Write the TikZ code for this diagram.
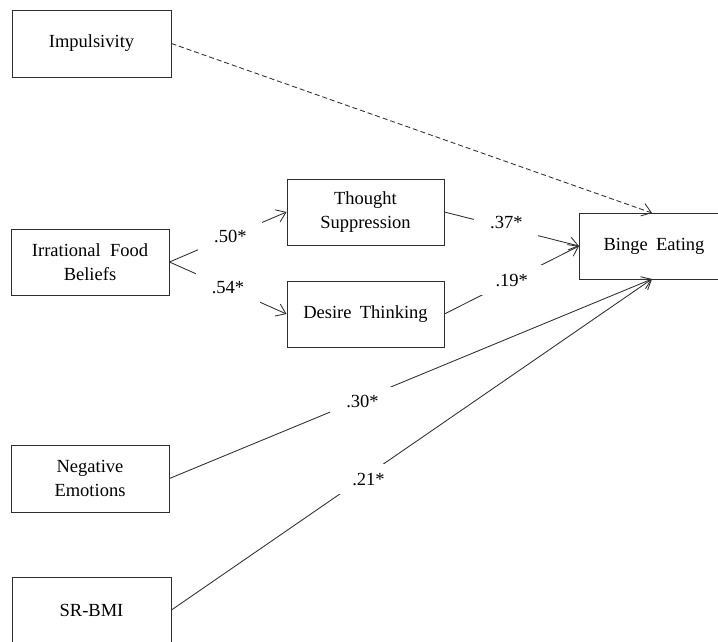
\documentclass[tikz,border=0pt]{standalone}
\usepackage{fontspec}
\setmainfont{Liberation Serif}
\usetikzlibrary{arrows.meta}
\definecolor{ink}{HTML}{2E2E2E}
\tikzset{
  box/.style={draw=ink, line width=0.9pt, rectangle, align=center, inner sep=0pt,
    font=\fontsize{18.5}{23.5}\selectfont, text=black},
  coef/.style={fill=white, inner sep=0pt, minimum width=64pt, minimum height=30pt,
    font=\fontsize{18.5}{22}\selectfont, text=black},
  path/.style={draw=ink, line width=0.85pt, -{Straight Barb[length=9pt,width=13pt,line width=0.85pt]}},
  dpath/.style={path, dash pattern=on 5pt off 3pt}
}
\begin{document}
\begin{tikzpicture}[x=1pt,y=-1pt]
\useasboundingbox[fill=white] (0,0) rectangle (718,641);
\clip (0,0) rectangle (718,641);

\node[box, minimum width=159pt, minimum height=67pt] (imp) at (91.5,43.5) {Impulsivity};
\node[box, minimum width=158pt, minimum height=66pt] (ifb) at (90,262) {Irrational\hspace{0.5em}Food\\Beliefs};
\node[box, minimum width=157pt, minimum height=66pt] (ts) at (365.5,212) {Thought\\Suppression};
\node[box, minimum width=157pt, minimum height=66pt] (dt) at (365.5,314) {Desire\hspace{0.45em}Thinking};
\coordinate (bec) at (654,246);
\node[box, minimum width=190pt, minimum height=66pt, anchor=west] (be) at (579,246) {};
\node[font=\fontsize{18.5}{23.5}\selectfont, inner sep=0pt] (bet) at (bec) {Binge\hspace{0.45em}Eating};
\coordinate (ben) at (652,213);
\coordinate (bes) at (652,279);
\node[box, minimum width=158pt, minimum height=67pt] (ne) at (90,478.5) {Negative\\Emotions};
\node[box, minimum width=159pt, minimum height=66pt] (sr) at (91.5,610) {SR-BMI};

\draw[dpath] (imp.east) -- (ben);
\draw[path] (ifb.east) -- node[coef, pos=0.52] (l50) {.50*} (ts.west);
\draw[path] (ifb.east) -- node[coef, pos=0.5] (l54) {.54*} (dt.west);
\draw[path] (ts.east) -- node[coef, pos=0.46, yshift=5pt] (l37) {.37*} (be.west);
\draw[path] (dt.east) -- node[coef, pos=0.5] (l19) {.19*} (be.west);
\draw[path] (ne.east) -- node[coef, pos=0.40, yshift=-3pt] (l30) {.30*} (bes);
\draw[path] (sr.east) -- node[coef, pos=0.41, yshift=-5pt] (l21) {.21*} (bes);
\end{tikzpicture}
\end{document}
